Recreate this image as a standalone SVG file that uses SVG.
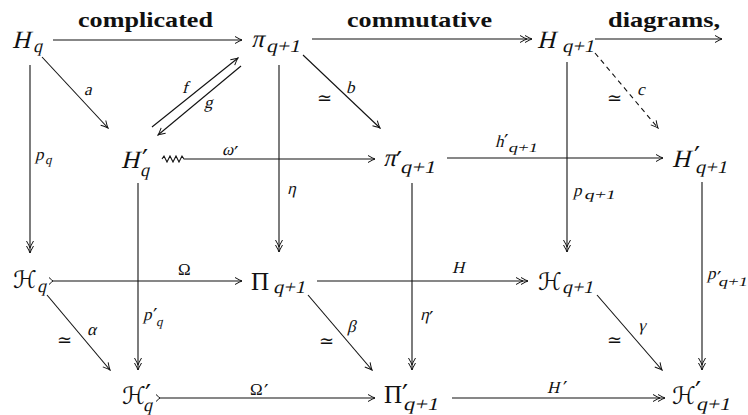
<svg xmlns="http://www.w3.org/2000/svg" width="748" height="415" viewBox="0 0 748 415">
<style>
text{font-family:"Liberation Serif","DejaVu Serif",serif;fill:#111}
.m{font-size:25px}
.cal{font-family:"DejaVu Serif","DejaVu Sans",serif;font-size:24px}
.s{font-size:18px}
.l{font-size:17px}
.ls{font-size:13px}
.pr{font-family:"DejaVu Sans",sans-serif;font-size:27px}
.prs{font-family:"DejaVu Sans",sans-serif;font-size:20px}
.eq{font-family:"DejaVu Serif","DejaVu Sans",serif;font-size:18px}
.b{font-weight:bold;font-size:21px}
.e{stroke:#111;stroke-width:1.1;fill:none}
.d{stroke-dasharray:5,4}
</style>
<defs>
<marker id="ah" viewBox="-9 -5 10 10" markerWidth="10" markerHeight="10" refX="0" refY="0" orient="auto" markerUnits="userSpaceOnUse">
<path d="M-7,-3.5 Q-2,-0.6 0,0 Q-2,0.6 -7,3.5" fill="none" stroke="#111" stroke-width="1"/>
</marker>
<marker id="ah2" viewBox="-14 -5 15 10" markerWidth="15" markerHeight="10" refX="0" refY="0" orient="auto" markerUnits="userSpaceOnUse">
<path d="M-7,-3.5 Q-2,-0.6 0,0 Q-2,0.6 -7,3.5 M-12,-3.5 Q-7,-0.6 -5,0 Q-7,0.6 -12,3.5" fill="none" stroke="#111" stroke-width="1"/>
</marker>
<marker id="tl" viewBox="-6 -5 7 10" markerWidth="7" markerHeight="10" refX="0" refY="0" orient="auto" markerUnits="userSpaceOnUse">
<path d="M-4,-3.5 Q-1,-0.6 0,0 Q-1,0.6 -4,3.5" fill="none" stroke="#111" stroke-width="1"/>
</marker>
</defs>

<g id="connectors">
<path class="e" d="M53,40 H242" marker-end="url(#ah)"/>
<path class="e" d="M312,39 H532" marker-end="url(#ah2)"/>
<path class="e" d="M595,39 H722" marker-end="url(#ah)"/>
<path class="e" d="M42,57 L108,128" marker-end="url(#ah)"/>
<path class="e" d="M303,55 L380,128" marker-end="url(#ah)"/>
<path class="e d" d="M595,53 L658,128" marker-end="url(#ah)"/>
<path class="e" d="M152,127 L238,58" marker-end="url(#ah)"/>
<path class="e" d="M241,66 L158,135" marker-end="url(#ah)"/>
<path class="e" d="M162,159 l2,-3 l3,6 l3,-6 l3,6 l3,-6 l3,6 l3,-6 l2,3 H375" marker-end="url(#ah)"/>
<path class="e" d="M447,158 H663" marker-end="url(#ah)"/>
<path class="e" d="M30,65 V253" marker-end="url(#ah2)"/>
<path class="e" d="M279,65 V252" marker-end="url(#ah2)"/>
<path class="e" d="M567,62 V252" marker-end="url(#ah2)"/>
<path class="e" d="M53,281 H242" marker-start="url(#tl)" marker-end="url(#ah)"/>
<path class="e" d="M317,281 H528" marker-end="url(#ah2)"/>
<path class="e" d="M138,183 V370" marker-end="url(#ah2)"/>
<path class="e" d="M412,183 V370" marker-end="url(#ah2)"/>
<path class="e" d="M702,182 V370" marker-end="url(#ah2)"/>
<path class="e" d="M47,295 L110,370" marker-end="url(#ah)"/>
<path class="e" d="M308,295 L372,370" marker-end="url(#ah)"/>
<path class="e" d="M597,295 L662,370" marker-end="url(#ah)"/>
<path class="e" d="M160,398 H375" marker-start="url(#tl)" marker-end="url(#ah)"/>
<path class="e" d="M452,398 H665" marker-end="url(#ah2)"/>
</g>

<g id="labels">
<text class="b" x="78" y="27" textLength="135" lengthAdjust="spacingAndGlyphs">complicated</text>
<text class="b" x="347" y="27" textLength="145" lengthAdjust="spacingAndGlyphs">commutative</text>
<text class="b" x="608" y="27" textLength="112" lengthAdjust="spacingAndGlyphs">diagrams,</text>
<text class="l" transform="translate(84,95) skewX(-14)">a</text>
<text class="l" transform="translate(182,93) skewX(-14)">f</text>
<text class="l" transform="translate(204,108) skewX(-14)">g</text>
<text class="eq" x="317" y="104">≃</text>
<text class="l" transform="translate(346,93) skewX(-14)">b</text>
<text class="eq" x="607" y="104">≃</text>
<text class="l" transform="translate(637,95) skewX(-14)">c</text>
<text class="l" transform="translate(222,155) skewX(-14)">ω</text><text class="prs" x="234" y="160">′</text>
<text class="l" transform="translate(495,147) skewX(-14)">h</text><text class="prs" x="504" y="148">′</text><text class="ls" transform="translate(508,152) skewX(-14)" textLength="29" lengthAdjust="spacingAndGlyphs">q+1</text>
<text class="l" transform="translate(35,160) skewX(-14)">p</text><text class="ls" transform="translate(45,164) skewX(-14)">q</text>
<text class="l" transform="translate(287,194) skewX(-14)">η</text>
<text class="l" transform="translate(573,196) skewX(-14)">p</text><text class="ls" transform="translate(584,199) skewX(-14)" textLength="31" lengthAdjust="spacingAndGlyphs">q+1</text>
<text class="l" x="178" y="275">Ω</text>
<text class="l" transform="translate(452,273) skewX(-14)">H</text>
<text class="l" transform="translate(707,279) skewX(-14)">p</text><text class="prs" x="717" y="285">′</text><text class="ls" transform="translate(718,286) skewX(-14)" textLength="29" lengthAdjust="spacingAndGlyphs">q+1</text>
<text class="l" transform="translate(143,320) skewX(-14)">p</text><text class="prs" x="153" y="322">′</text><text class="ls" transform="translate(156,326) skewX(-14)">q</text>
<text class="l" transform="translate(420,320) skewX(-14)">η</text><text class="prs" x="429" y="325">′</text>
<text class="eq" x="57" y="346">≃</text>
<text class="l" transform="translate(87,335) skewX(-14)">α</text>
<text class="eq" x="319" y="347">≃</text>
<text class="l" transform="translate(347,332) skewX(-14)">β</text>
<text class="eq" x="607" y="346">≃</text>
<text class="l" transform="translate(638,331) skewX(-14)">γ</text>
<text class="l" x="250" y="395">Ω</text><text class="prs" x="264" y="398">′</text>
<text class="l" transform="translate(547,393) skewX(-14)">H</text><text class="prs" x="563" y="395">′</text>
</g>

<g id="n-Hq"><text class="m" transform="translate(12,48) skewX(-14)">H</text><text class="s" transform="translate(33,52) skewX(-14)">q</text></g>
<g id="n-pi"><text class="m" transform="translate(251,47) skewX(-14)">π</text><text class="s" transform="translate(266,52) skewX(-14)" textLength="34" lengthAdjust="spacingAndGlyphs">q+1</text></g>
<g id="n-Hq1"><text class="m" transform="translate(537,48) skewX(-14)">H</text><text class="s" transform="translate(562,52) skewX(-14)" textLength="32" lengthAdjust="spacingAndGlyphs">q+1</text></g>
<g id="n-Hpq"><text class="m" transform="translate(121,168) skewX(-14)">H</text><text class="pr" x="142" y="169">′</text><text class="s" transform="translate(140,176) skewX(-14)">q</text></g>
<g id="n-pip"><text class="m" transform="translate(383,166) skewX(-14)">π</text><text class="pr" x="396" y="171">′</text><text class="s" transform="translate(400,173) skewX(-14)" textLength="35" lengthAdjust="spacingAndGlyphs">q+1</text></g>
<g id="n-Hpq1"><text class="m" transform="translate(672,167) skewX(-14)">H</text><text class="pr" x="694" y="166">′</text><text class="s" transform="translate(695,173) skewX(-14)" textLength="32" lengthAdjust="spacingAndGlyphs">q+1</text></g>
<g id="n-cHq"><text class="cal" x="13" y="288">ℋ</text><text class="s" transform="translate(37,292) skewX(-14)">q</text></g>
<g id="n-Pi"><text class="m" x="251" y="290">Π</text><text class="s" transform="translate(273,293) skewX(-14)" textLength="32" lengthAdjust="spacingAndGlyphs">q+1</text></g>
<g id="n-cHq1"><text class="cal" x="538" y="290">ℋ</text><text class="s" transform="translate(562,293) skewX(-14)" textLength="31" lengthAdjust="spacingAndGlyphs">q+1</text></g>
<g id="n-cHpq"><text class="cal" x="122" y="404">ℋ</text><text class="pr" x="145" y="404">′</text><text class="s" transform="translate(143,411) skewX(-14)">q</text></g>
<g id="n-Pip"><text class="m" x="384" y="403">Π</text><text class="pr" x="402" y="404">′</text><text class="s" transform="translate(403,410) skewX(-14)" textLength="35" lengthAdjust="spacingAndGlyphs">q+1</text></g>
<g id="n-cHpq1"><text class="cal" x="672" y="404">ℋ</text><text class="pr" x="695" y="401">′</text><text class="s" transform="translate(696,410) skewX(-14)" textLength="34" lengthAdjust="spacingAndGlyphs">q+1</text></g>
</svg>
